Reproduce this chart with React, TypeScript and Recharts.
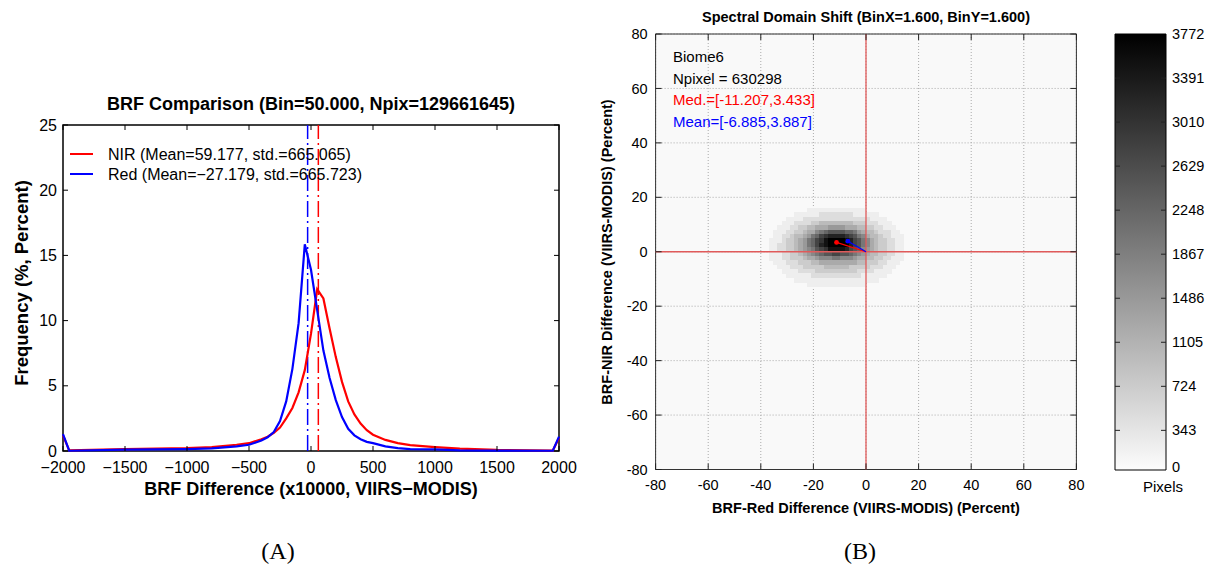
import React from 'react';
import {
  LineChart,
  Line,
  ScatterChart,
  Scatter,
  BarChart,
  Bar,
  XAxis,
  YAxis,
  CartesianGrid,
  ReferenceLine,
  ReferenceArea,
} from 'recharts';

// ---------- Panel A: BRF difference histograms (bin = 50) ----------
const BRF_DIFF = [
  -2000, -1950, -1500, -1000, -800, -600, -500, -400, -350, -300, -250, -200, -150, -100, -50, 0,
  50, 100, 150, 200, 250, 300, 350, 400, 450, 500, 600, 700, 800, 1000, 1200, 1500, 1950, 2000,
];
const NIR_FREQ = [
  1.2, 0.05, 0.15, 0.22, 0.3, 0.48, 0.6, 0.9, 1.1, 1.4, 1.8, 2.5, 3.3, 4.5, 6.2, 9.0,
  12.4, 11.7, 9.4, 7.2, 5.3, 3.8, 2.8, 2.1, 1.6, 1.25, 0.85, 0.6, 0.45, 0.3, 0.18, 0.08, 0.03, 1.0,
];
const RED_FREQ = [
  1.3, 0.02, 0.1, 0.15, 0.2, 0.35, 0.48, 0.8, 1.05, 1.45, 2.3, 3.8, 6.3, 9.8, 15.85, 13.9,
  10.8, 7.7, 5.6, 3.9, 2.6, 1.7, 1.2, 0.9, 0.7, 0.6, 0.35, 0.22, 0.15, 0.12, 0.05, 0.03, 0.02, 1.1,
];
const NIR_MEAN = 59.177;
const RED_MEAN = -27.179;
const A_X_TICKS = [-2000, -1500, -1000, -500, 0, 500, 1000, 1500, 2000];
const A_Y_TICKS = [0, 5, 10, 15, 20, 25];

// ---------- Panel B: 2D histogram of spectral shift (bin = 1.6) ----------
const B_TICKS = [-80, -60, -40, -20, 0, 20, 40, 60, 80];
const BIN = 1.6;
const HEAT_LEFT = -36.8; // left edge of first column
const HEAT_TOP = 16; // top edge of first row
// one hex digit per cell: 0 = empty ... f = max count
const HEAT_ROWS = [
  '00000000011111111111111000000000',
  '00000011111122222222111111000000',
  '00001111222222222222222211110000',
  '00011122223344444444333222111000',
  '00111223344555666655544332211100',
  '01112233455789aaaa99865443222110',
  '011223445689bcddddcba87544322111',
  '11123345689bceffffedba8754332211',
  '11223345689bdefffffdba8754332211',
  '11223345678abceeeedba97654332211',
  '1112233456789aabbaa9876544332211',
  '11122333455677788777655443322111',
  '01112223334455555555544333221110',
  '00111222333334444443333322211100',
  '00011112222333333333322221111000',
  '00001111112222222222221111110000',
  '00000011111111111111111111000000',
  '00000000011111111111111000000000',
];
const MEDIAN = { x: -11.207, y: 3.433 };
const MEAN = { x: -6.885, y: 3.887 };
const NPIXEL = 630298;
const COLORBAR_TICKS = [0, 343, 724, 1105, 1486, 1867, 2248, 2629, 3010, 3391, 3772];
const COLORBAR_MAX = 3772;

// ---------- layout ----------
const FONT = "'Liberation Sans', Arial, Helvetica, sans-serif";
const SERIF = "'Liberation Serif', 'Times New Roman', serif";
const A = { w: 600, h: 520, left: 63, right: 559, top: 125, bottom: 451 };
const B = { x: 600, w: 510, h: 530, left: 55.6, right: 476.4, top: 34, bottom: 469.5 };
const CB = { x: 1100, w: 113, h: 530, left: 15, right: 66, top: 34, bottom: 470 };

const minus = (v: number) => (v < 0 ? '\u2212' + Math.abs(v) : String(v));

const brfRows = BRF_DIFF.map((x, i) => ({ x, nir: NIR_FREQ[i], red: RED_FREQ[i] }));

const heatCells: { x: number; y: number; count: number }[] = [];
HEAT_ROWS.forEach((row, j) => {
  row.split('').forEach((c, i) => {
    const level = parseInt(c, 16);
    if (level > 0) {
      heatCells.push({
        x: HEAT_LEFT + BIN * (i + 0.5),
        y: HEAT_TOP - BIN * (j + 0.5),
        count: (level / 15) * COLORBAR_MAX,
      });
    }
  });
});

const X_ZERO_LINE = [{ x: 0, y: -80 }, { x: 0, y: 80 }];
const Y_ZERO_LINE = [{ x: -80, y: 0 }, { x: 80, y: 0 }];
const MEDIAN_ARROW = [{ x: 0, y: 0, tip: false }, { ...MEDIAN, tip: true }];
const MEAN_ARROW = [{ x: 0, y: 0, tip: false }, { ...MEAN, tip: true }];
const COLORBAR_DATA = [{ name: 'Pixels', max: COLORBAR_MAX }];

const grayFor = (count: number) => {
  const g = Math.round(255 * (1 - count / COLORBAR_MAX));
  return `rgb(${g},${g},${g})`;
};

function AXTick(props: any) {
  const { x, payload } = props;
  return (
    <g>
      <line x1={x} x2={x} y1={A.bottom} y2={A.bottom - 5} stroke="#000" />
      <line x1={x} x2={x} y1={A.top} y2={A.top + 5} stroke="#000" />
      <text x={x} y={A.bottom + 22} textAnchor="middle" fontSize={16} fill="#000">
        {minus(payload.value)}
      </text>
    </g>
  );
}

function AYTick(props: any) {
  const { y, payload } = props;
  return (
    <g>
      <line x1={A.left} x2={A.left + 5} y1={y} y2={y} stroke="#000" />
      <line x1={A.right} x2={A.right - 5} y1={y} y2={y} stroke="#000" />
      <text x={A.left - 6} y={y} dy="0.35em" textAnchor="end" fontSize={16} fill="#000">
        {payload.value}
      </text>
    </g>
  );
}

function BXTick(props: any) {
  const { x, payload } = props;
  return (
    <g>
      <line x1={x} x2={x} y1={B.bottom} y2={B.bottom - 6} stroke="#222" />
      <line x1={x} x2={x} y1={B.top} y2={B.top + 6} stroke="#222" />
      <text x={x} y={B.bottom + 20} textAnchor="middle" fontSize={14.5} fill="#000">
        {payload.value}
      </text>
    </g>
  );
}

function BYTick(props: any) {
  const { y, payload } = props;
  return (
    <g>
      <line x1={B.left} x2={B.left + 6} y1={y} y2={y} stroke="#222" />
      <line x1={B.right} x2={B.right - 6} y1={y} y2={y} stroke="#222" />
      <text x={B.left - 8} y={y} dy="0.35em" textAnchor="end" fontSize={14.5} fill="#000">
        {payload.value}
      </text>
    </g>
  );
}

function CBTick(props: any) {
  const { y, payload } = props;
  const edge = payload.value === 0 || payload.value === COLORBAR_MAX;
  return (
    <g>
      {!edge && <line x1={CB.left} x2={CB.left + 5} y1={y} y2={y} stroke="#222" />}
      {!edge && <line x1={CB.right} x2={CB.right - 5} y1={y} y2={y} stroke="#222" />}
      <text x={CB.right + 6} y={edge && payload.value === 0 ? y - 3 : y} dy="0.35em" textAnchor="start" fontSize={14.5} fill="#000">
        {payload.value}
      </text>
    </g>
  );
}

function HeatCell(props: any) {
  const { cx, cy, payload } = props;
  const w = (BIN * (B.right - B.left)) / 160 + 0.6;
  const h = (BIN * (B.bottom - B.top)) / 160 + 0.6;
  return (
    <rect
      x={cx - w / 2}
      y={cy - h / 2}
      width={w}
      height={h}
      fill={grayFor(payload.count)}
      shapeRendering="crispEdges"
    />
  );
}

const NoPoint = () => <g />;

function ArrowTip(color: string) {
  return (props: any) => {
    const { cx, cy, payload } = props;
    if (!payload || !payload.tip) return <g />;
    return <circle cx={cx} cy={cy} r={2.4} fill={color} />;
  };
}

function Txt({ x, y, children, size = 15, bold = false, color = '#000', rotate = false, align = 'center', family = FONT }: any) {
  const tx = align === 'left' ? '0' : '-50%';
  return (
    <div
      style={{
        position: 'absolute',
        left: x,
        top: y,
        transform: `translate(${tx}, -50%)${rotate ? ' rotate(-90deg)' : ''}`,
        whiteSpace: 'nowrap',
        fontSize: size,
        fontWeight: bold ? 'bold' : 'normal',
        color,
        fontFamily: family,
        lineHeight: 1,
      }}
    >
      {children}
    </div>
  );
}

export default function App() {
  return (
    <div style={{ position: 'relative', width: 1213, height: 568, background: '#fff', fontFamily: FONT, overflow: 'hidden' }}>
      <style>{'body{margin:0}'}</style>

      {/* Panel A */}
      <div style={{ position: 'absolute', left: 0, top: 0 }}>
        <LineChart
          width={A.w}
          height={A.h}
          data={brfRows}
          margin={{ top: A.top, right: A.w - A.right, bottom: A.h - A.bottom - 30, left: A.left - 40 }}
        >
          <XAxis type="number" dataKey="x" domain={[-2000, 2000]} ticks={A_X_TICKS} interval={0} height={30} axisLine={false} tickLine={false} tick={AXTick} />
          <YAxis type="number" domain={[0, 25]} ticks={A_Y_TICKS} interval={0} width={40} axisLine={false} tickLine={false} tick={AYTick} />
          <ReferenceArea x1={-2000} x2={2000} y1={0} y2={25} fill="none" stroke="#000" strokeWidth={1.5} ifOverflow="visible" />
          <ReferenceLine x={NIR_MEAN} stroke="#ff0000" strokeWidth={1.5} strokeDasharray="16 4 2 4" />
          <ReferenceLine x={RED_MEAN} stroke="#0000ff" strokeWidth={1.5} strokeDasharray="16 4 2 4" />
          <Line type="linear" dataKey="nir" stroke="#ff0000" strokeWidth={2.2} dot={false} isAnimationActive={false} />
          <Line type="linear" dataKey="red" stroke="#0000ff" strokeWidth={2.2} dot={false} isAnimationActive={false} />
        </LineChart>
      </div>
      <Txt x={311} y={104} size={18} bold>BRF Comparison (Bin=50.000, Npix=129661645)</Txt>
      <Txt x={311} y={489} size={18} bold>BRF Difference (x10000, VIIRS{'\u2212'}MODIS)</Txt>
      <Txt x={22} y={283} size={18.5} bold rotate>Frequency (%, Percent)</Txt>
      <div style={{ position: 'absolute', left: 70, top: 153, width: 23, height: 2, background: '#ff0000' }} />
      <div style={{ position: 'absolute', left: 70, top: 173, width: 23, height: 2, background: '#0000ff' }} />
      <Txt x={108} y={155} size={16} align="left">NIR (Mean={NIR_MEAN}, std.=665.065)</Txt>
      <Txt x={108} y={175} size={16} align="left">Red (Mean={'\u2212'}{Math.abs(RED_MEAN)}, std.=665.723)</Txt>

      {/* Panel B */}
      <div style={{ position: 'absolute', left: B.x, top: 0 }}>
        <ScatterChart
          width={B.w}
          height={B.h}
          margin={{ top: B.top, right: B.w - B.right, bottom: B.h - B.bottom - 30, left: B.left - 40 }}
        >
          <CartesianGrid stroke="#aaa" strokeDasharray="1 2" fill="#f9f9f9" />
          <XAxis type="number" dataKey="x" domain={[-80, 80]} ticks={B_TICKS} interval={0} height={30} axisLine={false} tickLine={false} tick={BXTick} />
          <YAxis type="number" dataKey="y" domain={[-80, 80]} ticks={B_TICKS} interval={0} width={40} axisLine={false} tickLine={false} tick={BYTick} />
          <Scatter data={heatCells} shape={HeatCell} isAnimationActive={false} />
          <Scatter data={X_ZERO_LINE} line={{ stroke: '#e05a5a', strokeWidth: 1.3 }} shape={NoPoint} isAnimationActive={false} />
          <Scatter data={Y_ZERO_LINE} line={{ stroke: '#e05a5a', strokeWidth: 1.3 }} shape={NoPoint} isAnimationActive={false} />
          <Scatter data={MEDIAN_ARROW} line={{ stroke: '#ff0000', strokeWidth: 1.2 }} shape={ArrowTip('#ff0000')} isAnimationActive={false} />
          <Scatter data={MEAN_ARROW} line={{ stroke: '#0000ff', strokeWidth: 1.2 }} shape={ArrowTip('#0000ff')} isAnimationActive={false} />
          <ReferenceArea x1={-80} x2={80} y1={-80} y2={80} fill="none" stroke="#333" strokeWidth={1} ifOverflow="visible" />
        </ScatterChart>
      </div>
      <Txt x={866} y={17} size={14.5} bold>Spectral Domain Shift (BinX=1.600, BinY=1.600)</Txt>
      <Txt x={866} y={508} size={14.5} bold>BRF-Red Difference (VIIRS-MODIS) (Percent)</Txt>
      <Txt x={607} y={252} size={14.5} bold rotate>BRF-NIR Difference (VIIRS-MODIS) (Percent)</Txt>
      <Txt x={673} y={56} align="left">Biome6</Txt>
      <Txt x={673} y={77.5} align="left">Npixel = {NPIXEL}</Txt>
      <Txt x={673} y={99} align="left" color="#ff0000">Med.=[{MEDIAN.x},{MEDIAN.y}]</Txt>
      <Txt x={673} y={120.5} align="left" color="#0000ff">Mean=[{MEAN.x},{MEAN.y}]</Txt>

      {/* Colorbar */}
      <div style={{ position: 'absolute', left: CB.x, top: 0 }}>
        <BarChart
          width={CB.w}
          height={CB.h}
          data={COLORBAR_DATA}
          barCategoryGap={0}
          margin={{ top: CB.top, right: CB.w - CB.right - 40, bottom: CB.h - CB.bottom, left: CB.left }}
        >
          <defs>
            <linearGradient id="cbGrad" x1="0" y1="1" x2="0" y2="0">
              <stop offset="0" stopColor="#fcfcfc" />
              <stop offset="1" stopColor="#000" />
            </linearGradient>
          </defs>
          <XAxis dataKey="name" hide />
          <YAxis type="number" orientation="right" domain={[0, COLORBAR_MAX]} ticks={COLORBAR_TICKS} interval={0} width={40} axisLine={false} tickLine={false} tick={CBTick} />
          <Bar dataKey="max" fill="url(#cbGrad)" stroke="#000" strokeWidth={1} isAnimationActive={false} />
        </BarChart>
      </div>
      <Txt x={1163} y={486}>Pixels</Txt>

      <Txt x={278} y={551} size={24} family={SERIF}>(A)</Txt>
      <Txt x={860} y={551} size={24} family={SERIF}>(B)</Txt>
    </div>
  );
}
